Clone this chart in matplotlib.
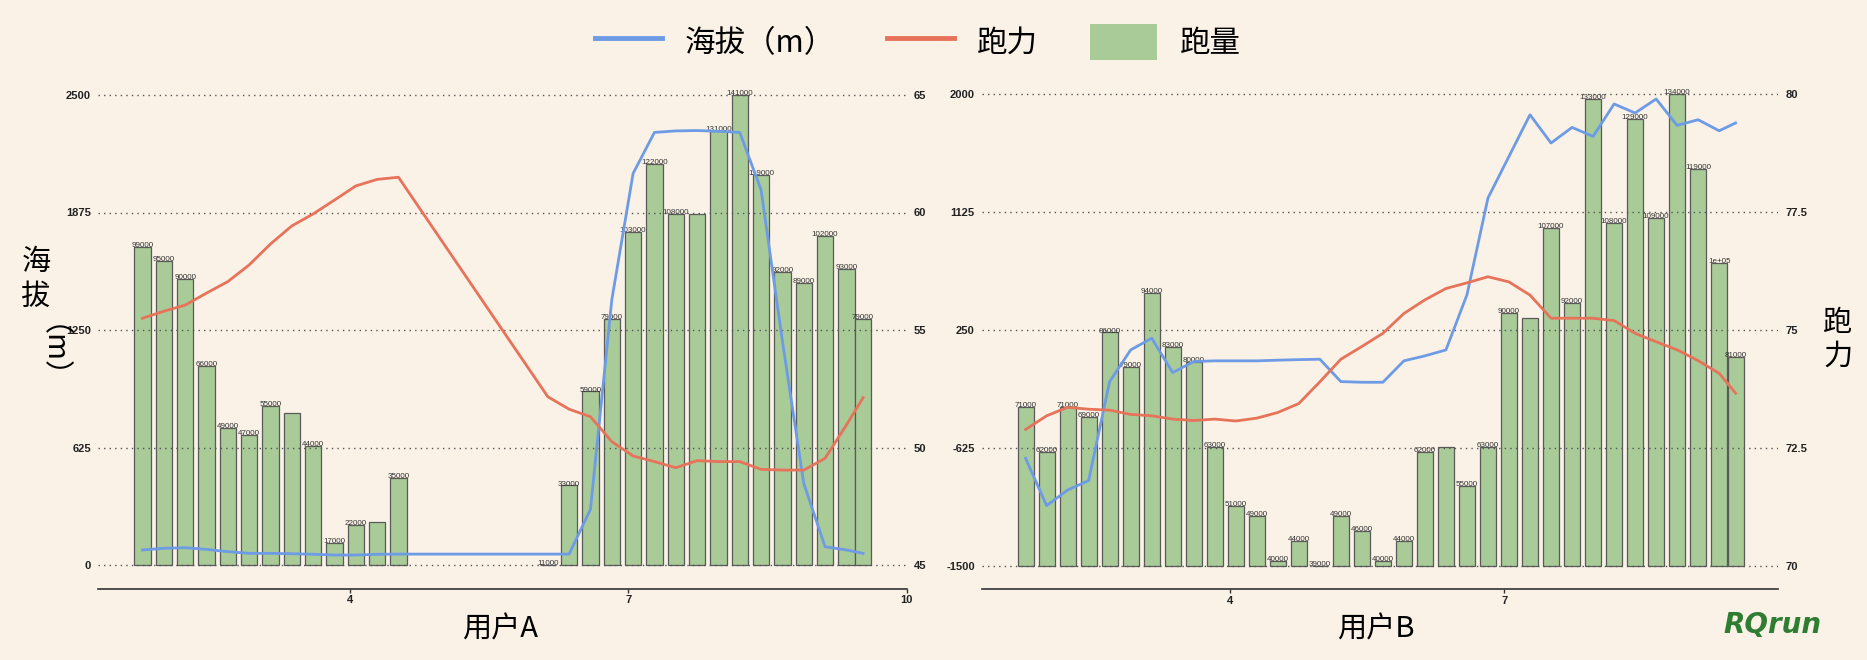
import numpy as np
import matplotlib as mpl
import matplotlib.pyplot as plt
from matplotlib.lines import Line2D
from matplotlib.patches import Patch

# user A (left panel)
x_a = [1.76, 1.99, 2.22, 2.45, 2.68, 2.91, 3.14, 3.37, 3.60, 3.83, 4.06, 4.29, 4.52,
       6.13, 6.36, 6.59, 6.82, 7.05, 7.28, 7.51, 7.74, 7.97, 8.20, 8.43, 8.66, 8.89,
       9.12, 9.35, 9.53]
dist_a = [99000, 95000, 90000, 66000, 49000, 47000, 55000, 53000, 44000, 17000, 22000,
          23000, 35000, 11000, 33000, 59000, 79000, 103000, 122000, 108000, 108000,
          131000, 141000, 119000, 92000, 89000, 102000, 93000, 79000]
alt_a = [80, 89, 92, 83, 71, 62, 62, 60, 57, 53, 53, 57, 58, 58, 58, 296, 1410, 2083,
         2301, 2309, 2311, 2307, 2301, 1995, 1190, 434, 97, 80, 62]
power_a = [55.5, 55.8, 56.06, 56.57, 57.06, 57.77, 58.66, 59.43, 59.94, 60.53, 61.13,
           61.41, 61.5, 52.16, 51.63, 51.31, 50.25, 49.64, 49.40, 49.14, 49.44, 49.40,
           49.40, 49.07, 49.04, 49.04, 49.54, 50.96, 52.12]
hidden_a = [7, 11, 20]   # labels dropped in the original (overlap)

# user B (right panel)
x_b = [1.76, 1.99, 2.22, 2.45, 2.68, 2.91, 3.14, 3.37, 3.60, 3.83, 4.06, 4.29, 4.52,
       4.75, 4.98, 5.21, 5.44, 5.67, 5.90, 6.13, 6.36, 6.59, 6.82, 7.05, 7.28, 7.51,
       7.74, 7.97, 8.20, 8.43, 8.66, 8.89, 9.12, 9.35, 9.53]
dist_b = [71000, 62000, 71000, 69000, 86000, 79000, 94000, 83000, 80000, 63000, 51000,
          49000, 40000, 44000, 39000, 49000, 46000, 40000, 44000, 62000, 63000, 55000,
          63000, 90000, 89000, 107000, 92000, 133000, 108000, 129000, 109000, 134000,
          119000, 100000, 81000]
alt_b = [-702, -1054, -938, -868, -133, 102, 189, -66, 16, 21, 21, 21, 26, 30, 33, -133,
         -138, -138, 21, 58, 102, 511, 1230, 1539, 1848, 1638, 1754, 1687, 1928, 1861,
         1965, 1769, 1811, 1729, 1787]
power_b = [72.89, 73.18, 73.36, 73.32, 73.30, 73.21, 73.18, 73.11, 73.08, 73.11, 73.07,
           73.13, 73.25, 73.44, 73.90, 74.38, 74.65, 74.93, 75.35, 75.64, 75.88, 76.00,
           76.13, 76.02, 75.74, 75.25, 75.25, 75.25, 75.20, 74.93, 74.75, 74.58, 74.35,
           74.08, 73.66]
hidden_b = [20, 24]

alt_ticks_a = [0, 625, 1250, 1875, 2500]
pow_ticks_a = [45, 50, 55, 60, 65]
alt_ticks_b = [-1500, -625, 250, 1125, 2000]
pow_ticks_b = [70, 72.5, 75, 77.5, 80]
x_ticks_a = [4, 7, 10]
x_ticks_b = [4, 7]

# colours
bg = '#faf2e6'
c_alt = '#6e9be6'
c_pow = '#e6735a'
c_bar = '#a8cb98'
c_edge = '#5a5a5a'

mpl.rcParams['font.family'] = ['Noto Sans CJK SC', 'DejaVu Sans']
tick_font = dict(fontsize=8, fontweight='bold', fontfamily='Liberation Sans', color='#222222')


def expand(lo, hi, f=0.05):
    d = (hi - lo) * f
    return lo - d, hi + d


def r_label(v):
    # R style formatting, 100000 -> 1e+05
    return '{:.0e}'.format(v) if v % 100000 == 0 else str(v)


def panel(rect, x, dist, alt, power, hidden, alt_ticks, pow_ticks, x_ticks, xlim):
    ax_bar = fig.add_axes(rect)
    ax_bar.set_facecolor(bg)
    ax_alt = ax_bar.twinx()
    ax_pow = ax_bar.twinx()

    # bars (跑量) on a hidden axis
    base = min(dist)
    ax_bar.bar(x, np.array(dist) - base, bottom=base, width=0.175, color=c_bar,
               edgecolor=c_edge, linewidth=0.9)
    ax_bar.set_ylim(*expand(base, max(dist)))
    for i, (xi, v) in enumerate(zip(x, dist)):
        if i in hidden:
            continue
        ax_bar.annotate(r_label(v), (xi, v), xytext=(0, 1), textcoords='offset points',
                        ha='center', va='center', fontsize=5.8,
                        fontfamily='Liberation Sans', color='#333333')
    ax_bar.set_yticks([])
    ax_bar.set_xlim(*xlim)
    ax_bar.set_xticks(x_ticks, [str(t) for t in x_ticks], **tick_font)
    ax_bar.tick_params(axis='x', length=3, width=1, pad=2, color='#333333')
    for s in ['top', 'left', 'right']:
        ax_bar.spines[s].set_visible(False)
    ax_bar.spines['bottom'].set_color('#333333')
    ax_bar.spines['bottom'].set_linewidth(1.2)

    # altitude line, left axis + grid
    ax_alt.plot(x, alt, color=c_alt, lw=2)
    ax_alt.yaxis.tick_left()
    ax_alt.set_ylim(*expand(alt_ticks[0], alt_ticks[-1]))
    ax_alt.set_yticks(alt_ticks, ['{:g}'.format(t) for t in alt_ticks], **tick_font)
    ax_alt.tick_params(axis='y', length=0, pad=5)
    ax_alt.grid(axis='y', color='#555555', linestyle=(0, (1, 3)), linewidth=1)

    # running power line, right axis
    ax_pow.plot(x, power, color=c_pow, lw=2)
    ax_pow.set_ylim(*expand(pow_ticks[0], pow_ticks[-1]))
    ax_pow.set_yticks(pow_ticks, ['{:g}'.format(t) for t in pow_ticks], **tick_font)
    ax_pow.tick_params(axis='y', length=0, pad=5)

    for a in [ax_alt, ax_pow]:
        for s in a.spines.values():
            s.set_visible(False)
    return ax_bar


W, H = 1867, 660
fig = plt.figure(figsize=(W / 100, H / 100), dpi=100, facecolor=bg)

panel([98 / W, 1 - 588.5 / H, 808.7 / W, 517 / H], x_a, dist_a, alt_a, power_a, hidden_a,
      alt_ticks_a, pow_ticks_a, x_ticks_a, (1.28, 10.0))
panel([981.7 / W, 1 - 589.3 / H, 796.6 / W, 518.6 / H], x_b, dist_b, alt_b, power_b,
      hidden_b, alt_ticks_b, pow_ticks_b, x_ticks_b, (1.28, 9.997))

# axis titles
fs = 21
fig.text(500 / W, 1 - 629 / H, '用户A', ha='center', va='center', fontsize=fs)
fig.text(1376 / W, 1 - 629 / H, '用户B', ha='center', va='center', fontsize=fs)
fig.text(36 / W, 1 - 262 / H, '海', ha='center', va='center', fontsize=fs)
fig.text(36 / W, 1 - 297 / H, '拔', ha='center', va='center', fontsize=fs)
fig.text(36 / W, 1 - 367 / H, '（m）', ha='center', va='center', fontsize=fs, rotation=-90)
fig.text(1838 / W, 1 - 323 / H, '跑', ha='center', va='center', fontsize=fs)
fig.text(1838 / W, 1 - 357 / H, '力', ha='center', va='center', fontsize=fs)

# watermark
fig.text(1772 / W, 1 - 625 / H, 'RQrun', ha='center', va='center', fontsize=20,
         fontweight='bold', fontstyle='italic', fontfamily='DejaVu Sans', color='#2e7d32')

handles = [Line2D([], [], color=c_alt, lw=3.5),
           Line2D([], [], color=c_pow, lw=3.5),
           Patch(facecolor=c_bar, edgecolor='none')]
fig.legend(handles, ['海拔（m）', '跑力', '跑量'], loc='center',
           bbox_to_anchor=(918 / W, 1 - 42 / H), ncol=3, frameon=False, fontsize=22,
           handlelength=2.2, handleheight=1.4, handletextpad=0.75, columnspacing=1.7)

plt.savefig('out.png', dpi=100, facecolor=bg)
